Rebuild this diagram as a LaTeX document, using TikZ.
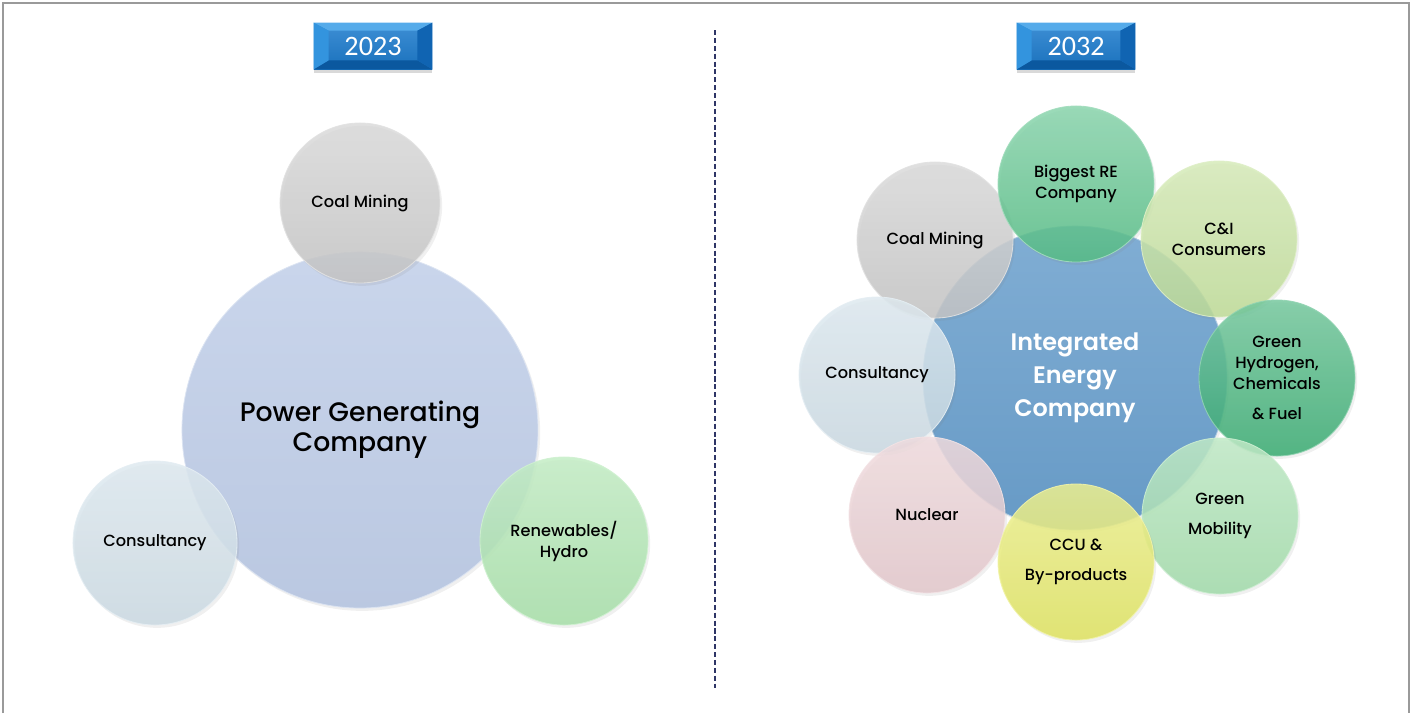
\documentclass[tikz,border=0pt]{standalone}
\usepackage{fontspec}
\setmainfont{Poppins Medium}
\newfontfamily\hubfont{Poppins SemiBold}
\newfontfamily\badgefont{Carlito}
\usetikzlibrary{shadows,calc}
\definecolor{pgcBlue}{HTML}{C0CEE8}
\definecolor{coalGray}{HTML}{CACACA}
\definecolor{consBlue}{HTML}{D0E0E9}
\definecolor{renGreen}{HTML}{AAE5AC}
\definecolor{iecBlue}{HTML}{6A9FCC}
\definecolor{reGreen}{HTML}{58C289}
\definecolor{ciGreen}{HTML}{C4E29B}
\definecolor{ghGreen}{HTML}{3AB074}
\definecolor{gmGreen}{HTML}{A5E1AE}
\definecolor{ccuYellow}{HTML}{E5E962}
\definecolor{nucPink}{HTML}{E9CCD0}
\definecolor{badgeBlue}{HTML}{1C7BCD}
\definecolor{bevelTop}{HTML}{55ABEA}
\definecolor{bevelLeft}{HTML}{3394DE}
\definecolor{bevelRight}{HTML}{1064B2}
\definecolor{bevelBot}{HTML}{0B589F}
\definecolor{divider}{HTML}{2E3566}
\definecolor{frameGray}{HTML}{9A9A9A}
\tikzset{
  ball/.style={circle, inner sep=0pt, align=center, text=black,
    font=\fontsize{11.5}{15}\selectfont,
    top color=#1!70!white, middle color=#1, bottom color=#1!97!black,
    draw=#1!55!white, line width=0.6pt,
    fill opacity=0.85, draw opacity=0.9, text opacity=1,
    drop shadow={opacity=0.12, shadow xshift=1.5pt, shadow yshift=-2pt}},
  hub/.style={ball=#1, fill opacity=1, top color=#1!85!white},
  badge/.style={rectangle, minimum width=2.95cm, minimum height=1.15cm, inner sep=0pt,
    top color=badgeBlue!85!white, bottom color=badgeBlue!92!black,
    drop shadow={opacity=0.3, shadow xshift=0pt, shadow yshift=-2.5pt}},
  bevel/.style={fill=#1, draw=none},
  yeartext/.style={text=white, font=\badgefont\fontsize{20}{24}\selectfont}
}
\begin{document}
\begin{tikzpicture}[x=0.025cm, y=-0.025cm]
\useasboundingbox (0,0) rectangle (1413,713);
% frame
\draw[frameGray, line width=1.4pt] (3,713) -- (3,3) -- (1409,3) -- (1409,713);
% divider
\coordinate (divtop) at (715,30);
\coordinate (divbot) at (715,688);
\draw[divider, line width=1.1pt, dash pattern=on 3.6pt off 2pt] (divtop) -- (divbot);

% badges
\foreach \nm/\cx/\cy/\yr in {bA/373/46/2023, bB/1076/46/2032}{
  \node[badge] (\nm) at (\cx,\cy) {};
  \fill[bevel=bevelTop] (\nm.north west) -- (\nm.north east) -- ($(\nm.north east)+(-15,8)$) -- ($(\nm.north west)+(15,8)$) -- cycle;
  \fill[bevel=bevelBot] (\nm.south west) -- (\nm.south east) -- ($(\nm.south east)+(-15,-9)$) -- ($(\nm.south west)+(15,-9)$) -- cycle;
  \fill[bevel=bevelLeft] (\nm.north west) -- ($(\nm.north west)+(15,8)$) -- ($(\nm.south west)+(15,-9)$) -- (\nm.south west) -- cycle;
  \fill[bevel=bevelRight] (\nm.north east) -- ($(\nm.north east)+(-15,8)$) -- ($(\nm.south east)+(-15,-9)$) -- (\nm.south east) -- cycle;
  \node[yeartext] (\nm t) at (\nm) {\yr};
}

% ---- 2023 ----
\node[hub=pgcBlue, minimum size=8.9cm, font=\fontsize{19}{21.5}\selectfont] (pgc) at (360,430) {Power Generating\\Company};
\node[ball=coalGray, minimum size=4.0cm] (coalL) at (360,203) {Coal Mining};
\node[ball=consBlue, minimum size=4.1cm] (consL) at (155,543) {Consultancy};
\node[ball=renGreen, minimum size=4.2cm] (renL) at (564,541) {Renewables/\\Hydro};

% ---- 2032 ----
\node[hub=iecBlue, minimum size=7.6cm, font=\hubfont\fontsize{17}{23.5}\selectfont, text=white] (iec) at (1075,378) {Integrated\\Energy\\Company};
\node[ball=coalGray, minimum size=3.9cm] (coalR) at (935,240) {Coal Mining};
\node[ball=reGreen, minimum size=3.9cm] (reR) at (1076,184) {Biggest RE\\Company};
\node[ball=ciGreen, minimum size=3.9cm] (ciR) at (1219,239) {C\&I\\Consumers};
\node[ball=consBlue, minimum size=3.9cm] (consR) at (877,375) {Consultancy};
\node[ball=ghGreen, minimum size=3.9cm] (ghR) at (1277,378) {Green\\Hydrogen,\\Chemicals\\[6pt]\& Fuel};
\node[ball=nucPink, minimum size=3.9cm] (nucR) at (927,515) {Nuclear};
\node[ball=gmGreen, minimum size=3.9cm] (gmR) at (1220,516) {Green\\[6pt]Mobility};
\node[ball=ccuYellow, minimum size=3.9cm] (ccuR) at (1076,562) {CCU \&\\[6pt]By-products};
\end{tikzpicture}
\end{document}
